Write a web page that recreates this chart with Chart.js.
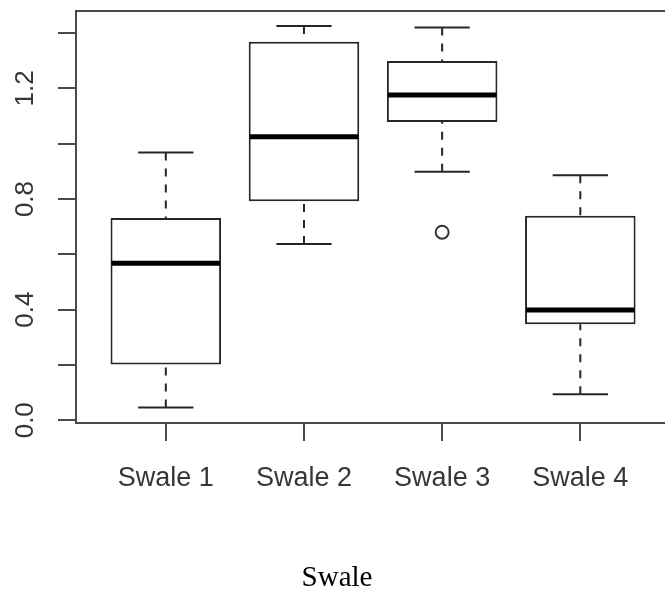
<!DOCTYPE html>
<html>
<head>
<meta charset="utf-8">
<script src="https://cdn.jsdelivr.net/npm/chart.js@4/dist/chart.umd.min.js"></script>
<style>
  html, body { margin: 0; padding: 0; background: #ffffff; overflow: hidden; }
  #wrap { position: relative; width: 680px; height: 592px; }
</style>
</head>
<body>
<div id="wrap"><canvas id="c"></canvas></div>
<script>
// ---- data ----
const categories  = ['Swale 1', 'Swale 2', 'Swale 3', 'Swale 4'];
const whiskerLow  = [0.046, 0.637, 0.899, 0.094];
const q1          = [0.202, 0.792, 1.079, 0.347];
const median      = [0.568, 1.025, 1.176, 0.399];
const q3          = [0.731, 1.369, 1.299, 0.740];
const whiskerHigh = [0.968, 1.426, 1.420, 0.886];
const outlierCategory = ['Swale 3'];
const outlierValue    = [0.680];
const yTickValues = [0, 0.4, 0.8, 1.2];
const yTickLabels = ['0.0', '0.4', '0.8', '1.2'];
const xTitle = 'Swale';

const LINE = '#262626';
const AXIS = '#4a4a4a';
const TEXT = '#363636';

const boxData = categories.map((c, i) => ({ x: i + 1, y: [q1[i], q3[i]] }));
const outData = outlierCategory.map((c, k) => ({ x: categories.indexOf(c) + 1, y: outlierValue[k] }));

const boxPlugin = {
  id: 'boxParts',
  afterDatasetsDraw(chart) {
    const ctx = chart.ctx;
    const xs = chart.scales.x, ys = chart.scales.y;
    ctx.save();
    categories.forEach((c, i) => {
      const cx = xs.getPixelForValue(i + 1);
      const capL = xs.getPixelForValue(i + 1 - 0.2);
      const capR = xs.getPixelForValue(i + 1 + 0.2);
      const boxL = xs.getPixelForValue(i + 1 - 0.4);
      const boxR = xs.getPixelForValue(i + 1 + 0.4);
      // whiskers (dashed), drawn from the cap toward the box
      ctx.strokeStyle = LINE;
      ctx.lineWidth = 2;
      ctx.setLineDash([8, 8]);
      ctx.beginPath();
      ctx.moveTo(cx, ys.getPixelForValue(whiskerHigh[i]));
      ctx.lineTo(cx, ys.getPixelForValue(q3[i]));
      ctx.moveTo(cx, ys.getPixelForValue(whiskerLow[i]));
      ctx.lineTo(cx, ys.getPixelForValue(q1[i]));
      ctx.stroke();
      // caps
      ctx.setLineDash([]);
      ctx.beginPath();
      ctx.moveTo(capL, ys.getPixelForValue(whiskerHigh[i]));
      ctx.lineTo(capR, ys.getPixelForValue(whiskerHigh[i]));
      ctx.moveTo(capL, ys.getPixelForValue(whiskerLow[i]));
      ctx.lineTo(capR, ys.getPixelForValue(whiskerLow[i]));
      ctx.stroke();
      // median
      ctx.strokeStyle = '#000000';
      ctx.lineWidth = 5;
      ctx.beginPath();
      ctx.moveTo(boxL + 1, ys.getPixelForValue(median[i]));
      ctx.lineTo(boxR - 1, ys.getPixelForValue(median[i]));
      ctx.stroke();
    });
    ctx.restore();
  },
  afterDraw(chart) {
    const ctx = chart.ctx, a = chart.chartArea;
    ctx.save();
    ctx.strokeStyle = AXIS;
    ctx.lineWidth = 2;
    ctx.strokeRect(a.left, a.top, a.right - a.left, a.bottom - a.top);
    ctx.restore();
  }
};

new Chart(document.getElementById('c'), {
  type: 'bar',
  data: {
    datasets: [
      {
        type: 'bar',
        data: boxData,
        backgroundColor: '#ffffff',
        borderColor: LINE,
        borderWidth: 2,
        borderSkipped: false,
        barPercentage: 0.8,
        categoryPercentage: 1.0,
        order: 2
      },
      {
        type: 'scatter',
        data: outData,
        pointRadius: 6.5,
        pointBorderWidth: 2,
        pointBackgroundColor: '#ffffff',
        pointBorderColor: '#333333',
        order: 1
      }
    ]
  },
  options: {
    responsive: true,
    maintainAspectRatio: false,
    animation: false,
    events: [],
    layout: { padding: { top: 11, right: 6, left: 0, bottom: 0 } },
    plugins: {
      legend: { display: false },
      tooltip: { enabled: false },
      title: {
        display: true,
        position: 'bottom',
        text: xTitle,
        color: '#000000',
        font: { family: "'Liberation Serif', 'Times New Roman', serif", size: 29, weight: 'normal', lineHeight: 0.92 },
        padding: { top: 0, bottom: 0 }
      }
    },
    scales: {
      x: {
        type: 'linear',
        offset: false,
        min: 0.35,
        max: 4.66,
        afterBuildTicks(scale) { scale.ticks = categories.map((c, i) => ({ value: i + 1 })); },
        afterFit(scale) { scale.height = 142.3; scale.paddingLeft = 0; scale.paddingRight = 0; },
        border: { display: false },
        grid: { offset: false, drawOnChartArea: false, drawTicks: true, tickLength: 18, lineWidth: 2, color: AXIS },
        ticks: {
          autoSkip: false,
          maxRotation: 0,
          padding: 21,
          color: TEXT,
          font: { family: "'Liberation Sans', Arial, sans-serif", size: 27 },
          callback: (v) => categories[Math.round(v) - 1] || ''
        }
      },
      y: {
        type: 'linear',
        min: -0.01,
        max: 1.48,
        afterFit(scale) { scale.width = 76; scale.paddingTop = 0; scale.paddingBottom = 0; },
        border: { display: false },
        grid: { drawOnChartArea: false, drawTicks: true, tickLength: 18, lineWidth: 2, color: AXIS },
        ticks: {
          stepSize: 0.2,
          includeBounds: false,
          autoSkip: false,
          minRotation: 90,
          maxRotation: 90,
          crossAlign: 'center',
          padding: 14,
          color: TEXT,
          font: { family: "'Liberation Sans', Arial, sans-serif", size: 26 },
          callback: (v) => {
            const k = yTickValues.findIndex(t => Math.abs(t - v) < 1e-6);
            return k >= 0 ? yTickLabels[k] : '';
          }
        }
      }
    }
  },
  plugins: [boxPlugin]
});
</script>
</body>
</html>
